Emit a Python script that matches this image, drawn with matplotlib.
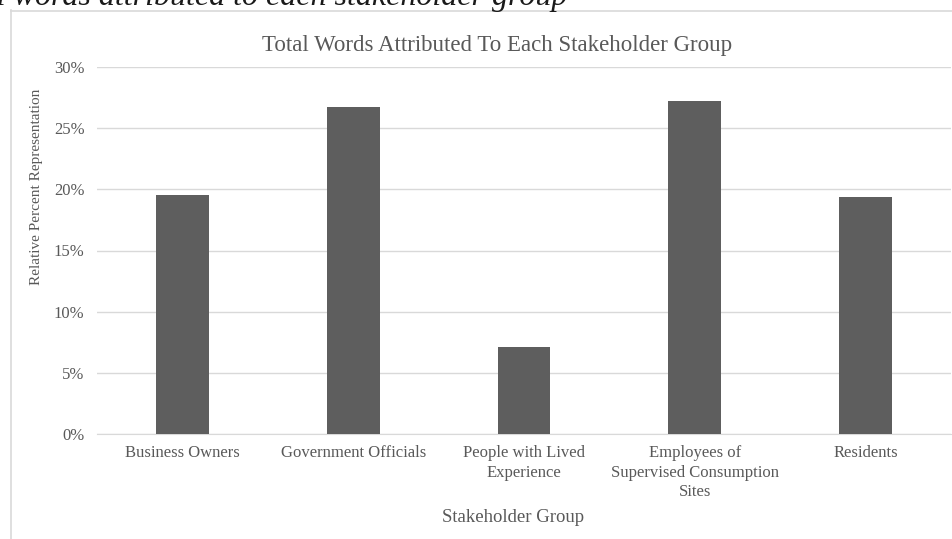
import matplotlib.pyplot as plt
from matplotlib.ticker import PercentFormatter
from matplotlib.lines import Line2D

# stakeholder groups and their share of the total words
groups = ['Business Owners', 'Government Officials', 'People with Lived\nExperience',
          'Employees of\nSupervised Consumption\nSites', 'Residents']
shares = [19.5, 26.75, 7.15, 27.2, 19.4]
yticks = [0, 5, 10, 15, 20, 25, 30]

grey = '#595959'
plt.rcParams['font.family'] = ['Liberation Serif', 'DejaVu Serif']

fig = plt.figure(figsize=(9.53, 5.39), dpi=100)
W, H = 953, 539

# frame of the chart box (only the top and left edges are visible)
fig.add_artist(Line2D([11.5 / W, 11.5 / W], [0, 1 - 10 / H], transform=fig.transFigure,
                      color='#d9d9d9', lw=1.2))
fig.add_artist(Line2D([11 / W, 1], [1 - 10.5 / H, 1 - 10.5 / H], transform=fig.transFigure,
                      color='#d9d9d9', lw=1.2))

# caption from the page above, cut off at the top edge
fig.text(567 / W, 1 - 5 / H, 'Total words attributed to each stakeholder group',
         ha='right', va='baseline', fontsize=23, style='italic', color='#1a1a1a')

ax = fig.add_axes([97 / W, 1 - 434 / H, (951 - 97) / W, (434 - 67) / H])
x = range(len(groups))
ax.bar(x, shares, width=0.31, color='#5e5e5e', zorder=3)

ax.set_xlim(-0.5, len(groups) - 0.5)
ax.set_ylim(0, 30)
ax.set_yticks(yticks)
ax.yaxis.set_major_formatter(PercentFormatter(decimals=0))
ax.set_xticks(list(x))
ax.set_xticklabels(groups, linespacing=1.3)
ax.grid(axis='y', color='#d9d9d9', lw=1, zorder=0)
for s in ['top', 'right', 'left']:
    ax.spines[s].set_visible(False)
ax.spines['bottom'].set_color('#d9d9d9')
ax.tick_params(axis='both', length=0, colors=grey, labelsize=12)
ax.tick_params(axis='x', pad=8)
ax.tick_params(axis='y', pad=9)

fig.text(497 / W, 1 - 45 / H, 'Total Words Attributed To Each Stakeholder Group',
         ha='center', va='center', fontsize=16.5, color=grey)
fig.text(513 / W, 1 - 518 / H, 'Stakeholder Group', ha='center', va='center',
         fontsize=13.5, color=grey)
fig.text(37 / W, 1 - 187 / H, 'Relative Percent Representation', ha='center', va='center',
         rotation=90, fontsize=11, color=grey)

fig.savefig('out.png', dpi=100)
